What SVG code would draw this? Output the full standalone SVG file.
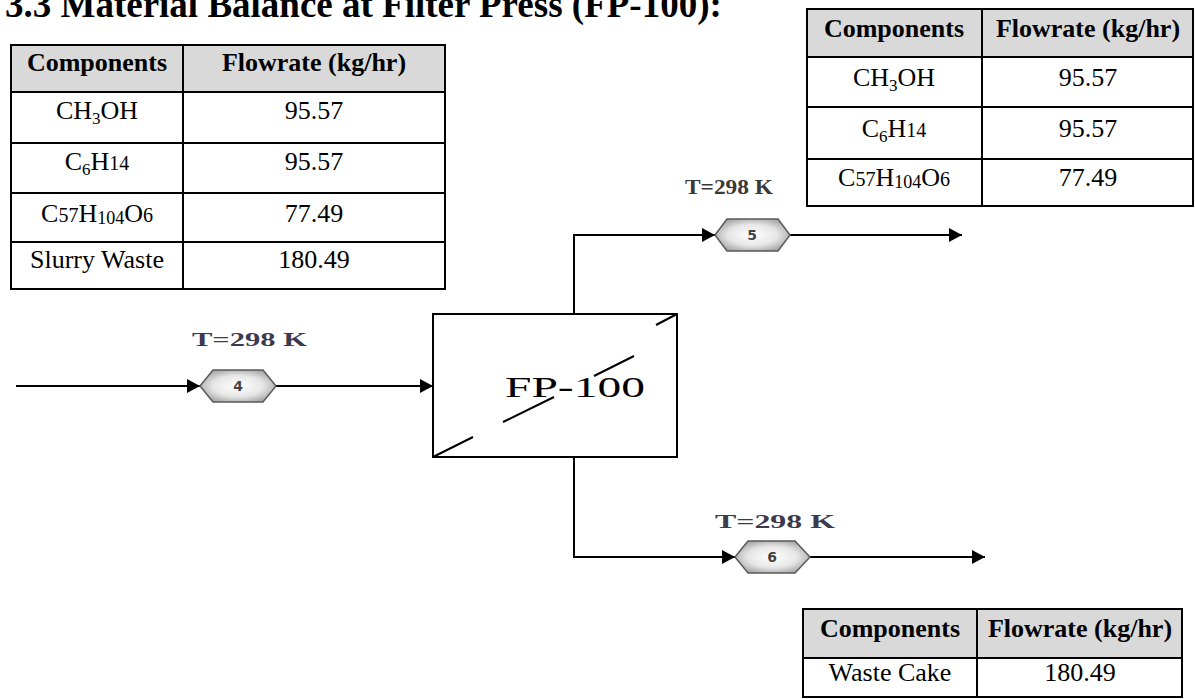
<svg xmlns="http://www.w3.org/2000/svg" width="1195" height="699" viewBox="0 0 1195 699">
<style>
.tb{fill:none;stroke:#000;stroke-width:2}
.hd{fill:#d9d9d9}
.th{font-family:"Liberation Serif",serif;font-weight:bold;font-size:26px;fill:#000;text-anchor:middle}
.td{font-family:"Liberation Serif",serif;font-size:26px;fill:#000;text-anchor:middle}
.title{font-family:"Liberation Serif",serif;font-weight:bold;font-size:37px;fill:#000}
.conn{fill:none;stroke:#000;stroke-width:2}
.hex{fill:url(#hg);stroke:#5a5a5a;stroke-width:1.5}
.hn{font-family:"DejaVu Sans",sans-serif;font-weight:bold;font-size:14px;fill:#444;text-anchor:middle}
.tl{font-family:"Liberation Serif",serif;font-weight:bold;font-size:19px;fill:#3d3a4e}
.tl2{font-family:"Liberation Serif",serif;font-weight:bold;font-size:22px;fill:#3a3a3a}
</style>
<defs>
<radialGradient id="hg" cx="50%" cy="50%" r="60%">
<stop offset="0" stop-color="#ffffff"/>
<stop offset="0.55" stop-color="#e6e6e6"/>
<stop offset="1" stop-color="#9a9a9a"/>
</radialGradient>
<marker id="ar" markerUnits="userSpaceOnUse" markerWidth="13" markerHeight="14" refX="13" refY="7" orient="auto">
<path d="M0,0 L13,7 L0,14 z" fill="#000"/>
</marker>
</defs>
<rect width="1195" height="699" fill="#fff"/>
<text class="title" x="5" y="17">3.3 Material Balance at Filter Press (FP-100):</text>

<g id="table-feed">
<rect class="hd" x="11" y="45" width="434" height="47"/>
<rect class="tb" x="11" y="45" width="434" height="244"/>
<path class="tb" d="M183,45 V289 M11,92 H445 M11,143 H445 M11,193 H445 M11,242 H445"/>
<text class="th" x="97" y="71">Components</text>
<text class="th" x="314" y="71">Flowrate (kg/hr)</text>
<text class="td" x="97" y="119">CH<tspan font-size="17" dy="5">3</tspan><tspan dy="-5">OH</tspan></text>
<text class="td" x="314" y="119">95.57</text>
<text class="td" x="97" y="170">C<tspan font-size="17" dy="5">6</tspan><tspan dy="-5">H</tspan><tspan font-size="20">14</tspan></text>
<text class="td" x="314" y="170">95.57</text>
<text class="td" x="97" y="222">C<tspan font-size="20">57</tspan>H<tspan font-size="18" dy="2">104</tspan><tspan dy="-2">O</tspan><tspan font-size="20">6</tspan></text>
<text class="td" x="314" y="222">77.49</text>
<text class="td" x="97" y="268">Slurry Waste</text>
<text class="td" x="314" y="268">180.49</text>
</g>

<g id="table-top">
<rect class="hd" x="807" y="9" width="386" height="48"/>
<rect class="tb" x="807" y="9" width="386" height="197"/>
<path class="tb" d="M982,9 V206 M807,57 H1193 M807,107 H1193 M807,159 H1193"/>
<text class="th" x="894" y="37">Components</text>
<text class="th" x="1088" y="37">Flowrate (kg/hr)</text>
<text class="td" x="894" y="86">CH<tspan font-size="17" dy="5">3</tspan><tspan dy="-5">OH</tspan></text>
<text class="td" x="1088" y="86">95.57</text>
<text class="td" x="894" y="137">C<tspan font-size="17" dy="5">6</tspan><tspan dy="-5">H</tspan><tspan font-size="20">14</tspan></text>
<text class="td" x="1088" y="137">95.57</text>
<text class="td" x="894" y="186">C<tspan font-size="20">57</tspan>H<tspan font-size="18" dy="2">104</tspan><tspan dy="-2">O</tspan><tspan font-size="20">6</tspan></text>
<text class="td" x="1088" y="186">77.49</text>
</g>

<g id="table-bottom">
<rect class="hd" x="803" y="609" width="379" height="49"/>
<rect class="tb" x="803" y="609" width="379" height="88"/>
<path class="tb" d="M977,609 V697 M803,658 H1182"/>
<text class="th" x="890" y="637">Components</text>
<text class="th" x="1080" y="637">Flowrate (kg/hr)</text>
<text class="td" x="890" y="681">Waste Cake</text>
<text class="td" x="1080" y="681">180.49</text>
</g>

<g id="connectors">
<path class="conn" d="M16,386 H200" marker-end="url(#ar)"/>
<path class="conn" d="M276,386 H433" marker-end="url(#ar)"/>
<path class="conn" d="M574,314 V235 H715" marker-end="url(#ar)"/>
<path class="conn" d="M790,235 H962" marker-end="url(#ar)"/>
<path class="conn" d="M574,457 V557 H735" marker-end="url(#ar)"/>
<path class="conn" d="M810,557 H985" marker-end="url(#ar)"/>
</g>

<g id="FP-100">
<rect x="433" y="314" width="244" height="143" fill="#fff" stroke="#000" stroke-width="2"/>
<path d="M433,457 L473,437 M503,422 L554,397 M594,376 L634,356 M656,325 L677,314" fill="none" stroke="#000" stroke-width="2"/>
<text x="575" y="397" font-family="Liberation Serif,serif" font-size="29" text-anchor="middle" textLength="140" lengthAdjust="spacingAndGlyphs">FP-100</text>
</g>

<g id="stream-4">
<polygon class="hex" points="200,386 213,370 263,370 276,386 263,402 213,402"/>
<text class="hn" x="238" y="391">4</text>
<text class="tl" x="192" y="346" textLength="115" lengthAdjust="spacingAndGlyphs">T=298 K</text>
</g>

<g id="stream-5">
<polygon class="hex" points="715,235 727,219 778,219 790,235 778,251 727,251"/>
<text class="hn" x="752" y="240">5</text>
<text class="tl2" x="685" y="194" textLength="88" lengthAdjust="spacingAndGlyphs">T=298 K</text>
</g>

<g id="stream-6">
<polygon class="hex" points="735,557 748,541 795,541 810,557 795,573 748,573"/>
<text class="hn" x="772" y="562">6</text>
<text class="tl" x="715" y="528" textLength="120" lengthAdjust="spacingAndGlyphs">T=298 K</text>
</g>
</svg>
